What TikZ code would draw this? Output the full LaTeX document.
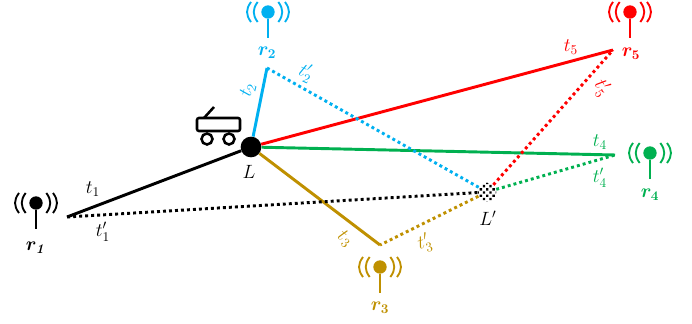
\documentclass[tikz,border=0pt]{standalone}
\usepackage{bm}
\usetikzlibrary{patterns.meta}
\definecolor{rblue}{HTML}{00B0F0}
\definecolor{rgold}{HTML}{BF9000}
\definecolor{rgreen}{HTML}{00B050}
\definecolor{rred}{HTML}{FF0000}
\tikzset{
  rangeline/.style={line width=2.2pt},
  rangedot/.style={line width=2.2pt,dash pattern=on 2.2pt off 2.3pt},
  antdot/.style={circle,inner sep=0pt,minimum size=10pt},
  lab/.style={inner sep=0pt,font=\Large}
}
\begin{document}
\begin{tikzpicture}[x=0.75pt,y=-0.75pt]
  \useasboundingbox (0,0) rectangle (692,324);
  \node[circle,fill=black,inner sep=0pt,minimum size=15.5pt] (L) at (251,147) {};
  \node[circle,pattern={Dots[distance=3.4pt,radius=1.25pt,angle=45]},inner sep=0pt,minimum size=14pt] (Lp) at (487,192) {};
  \coordinate (e1) at (67,217);
  \coordinate (e2) at (267,68);
  \coordinate (e3) at (380,245);
  \coordinate (e4) at (615,155);
  \coordinate (e5) at (613,50);
  \draw[rangeline,black] (L) -- (e1);
  \draw[rangeline,rblue] (L) -- (e2);
  \draw[rangeline,rgold] (L) -- (e3);
  \draw[rangeline,rgreen] (L) -- (e4);
  \draw[rangeline,rred] (L) -- (e5);
  \draw[rangedot,black] (Lp) -- (e1);
  \draw[rangedot,rblue] (Lp) -- (e2);
  \draw[rangedot,rgold] (Lp) -- (e3);
  \draw[rangedot,rgreen] (Lp) -- (e4);
  \draw[rangedot,rred] (Lp) -- (e5);
  \foreach \n/\x/\y/\c in {1/36/203/black,2/268/12/rblue,3/380/267/rgold,4/650/153/rgreen,5/630/12/rred}{
    \node[antdot,fill=\c] (a\n) at (\x,\y) {};
    \coordinate (b\n) at (\x,\y+26);
    \draw[\c,line width=2.2pt] (a\n) -- (b\n);
    \foreach \s in {-1,1}{
      \draw[\c,line width=1.4pt] (\x+\s*10.3,\y-10) .. controls (\x+\s*15.6,\y-3) and (\x+\s*15.6,\y+3) .. (\x+\s*10.3,\y+10);
      \draw[\c,line width=1.4pt] (\x+\s*17,\y-10) .. controls (\x+\s*22.3,\y-3) and (\x+\s*22.3,\y+3) .. (\x+\s*17,\y+10);
    }
  }
  \node[lab,text=black] (r1) at (36,248) {$\bm{r_{\mathit{1}}}$};
  \node[lab,text=rblue] (r2) at (267,53) {$\bm{r_2}$};
  \node[lab,text=rgold] (r3) at (380,308) {$\bm{r_3}$};
  \node[lab,text=rgreen] (r4) at (650,195) {$\bm{r_4}$};
  \node[lab,text=rred] (r5) at (631,54) {$\bm{r_5}$};
  \node[lab] (tL) at (249,172) {$L$};
  \node[lab] (tLp) at (488,218) {$L'$};
  \node[lab,text=black] (t1) at (93,189) {$t_1$};
  \node[lab,text=black] (t1p) at (103,232) {$t_1'$};
  \node[lab,text=rblue,rotate=75] (t2) at (248,90) {$t_2$};
  \node[lab,text=rblue,rotate=-25] (t2p) at (306,73) {$t_2'$};
  \node[lab,text=rgold,rotate=-40] (t3) at (345,239) {$t_3$};
  \node[lab,text=rgold,rotate=15] (t3p) at (425,243) {$t_3'$};
  \node[lab,text=rgreen] (t4) at (600,142) {$t_4$};
  \node[lab,text=rgreen] (t4p) at (600,178) {$t_4'$};
  \node[lab,text=rred] (t5) at (571,47) {$t_5$};
  \node[lab,text=rred,rotate=-55] (t5p) at (602,88) {$t_5'$};
  \draw[line width=1.9pt,rounded corners=1.5pt] (197,118) rectangle (240,131);
  \draw[line width=1.9pt] (207,139) circle (5.5);
  \draw[line width=1.9pt] (229,139) circle (5.5);
  \draw[line width=1.9pt] (204,118) -- (214,107);
\end{tikzpicture}
\end{document}
